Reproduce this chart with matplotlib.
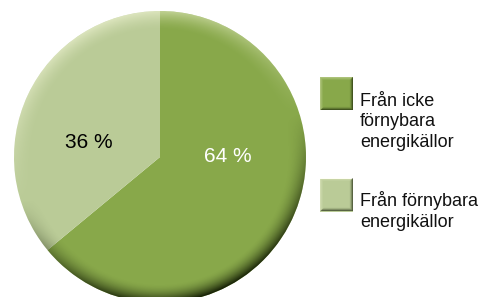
import matplotlib.pyplot as plt
import numpy as np
from matplotlib.patches import Circle, Rectangle

plt.rcParams['font.family'] = ['Liberation Sans', 'DejaVu Sans']

labels = ["Från icke\nförnybara\nenergikällor", "Från förnybara\nenergikällor"]
values = [64, 36]
colors = ["#88a84a", "#bacb97"]
pct_colors = ["white", "black"]

W, H = 485, 297
CX, CY, R = 160, 297 - 157, 146


def bevel(nx, ny, t, lx=-0.3, ly=0.95):
    """RGBA overlay for a bevelled edge, light from the upper left."""
    d = (nx * lx + ny * ly) * t
    img = np.zeros(nx.shape + (4,))
    pos = d > 0
    img[..., 0] = np.where(pos, 1.0, 0.05)
    img[..., 1] = np.where(pos, 1.0, 0.08)
    img[..., 2] = np.where(pos, 0.9, 0.0)
    img[..., 3] = np.clip(d, 0, None) * 0.5 + np.clip(-d, 0, None) ** 1.1 * 0.95
    return img


fig = plt.figure(figsize=(W / 100, H / 100), dpi=100)
ax = fig.add_axes([0, 0, 1, 1])

wedges, _ = ax.pie(values, colors=colors, startangle=90, counterclock=False,
                   center=(CX, CY), radius=R,
                   wedgeprops=dict(linewidth=0))

# shading of the rim
n = 700
xs = np.linspace(CX - R, CX + R, n)
ys = np.linspace(CY - R, CY + R, n)
X, Y = np.meshgrid(xs, ys)
dx, dy = (X - CX) / R, (Y - CY) / R
rr = np.hypot(dx, dy) + 1e-9
band = 0.13
t = np.clip((rr - (1 - band)) / band, 0, 1) ** 1.6
ov = bevel(dx / rr, dy / rr, t)
im = ax.imshow(ov, extent=(CX - R, CX + R, CY - R, CY + R), origin="lower",
               interpolation="bilinear", zorder=3)
im.set_clip_path(Circle((CX, CY), R, transform=ax.transData))

# percentage labels
pct_pos = [(228, 297 - 157), (89, 297 - 143)]
for v, (px, py), c in zip(values, pct_pos, pct_colors):
    ax.text(px, py, f"{v} %", color=c, fontsize=15, ha="center", va="center",
            zorder=4)

# legend
leg_y = [297 - 93.5, 297 - 195]
leg_text_y = [297 - 122, 297 - 211]
S = 33
for col, lab, sy, ty in zip(colors, labels, leg_y, leg_text_y):
    x0, y0 = 320, sy - S / 2
    ax.add_patch(Rectangle((x0, y0), S, S, facecolor=col, linewidth=0, zorder=3))
    m = 60
    gx, gy = np.meshgrid(np.linspace(-1, 1, m), np.linspace(-1, 1, m))
    ex = np.clip((np.abs(gx) - 0.78) / 0.22, 0, 1)
    ey = np.clip((np.abs(gy) - 0.78) / 0.22, 0, 1)
    nx = np.where(ex >= ey, np.sign(gx), 0.0)
    ny = np.where(ey > ex, np.sign(gy), 0.0)
    tt = np.maximum(ex, ey) ** 1.5
    ax.imshow(bevel(nx, ny, tt, -0.7, 0.7), extent=(x0, x0 + S, y0, y0 + S),
              origin="lower", interpolation="bilinear", zorder=4)
    ax.text(360, ty, lab, fontsize=13, ha="left", va="center",
            linespacing=1.3, color="#111111", zorder=4)

ax.set_xlim(0, W)
ax.set_ylim(0, H)
ax.set_aspect("equal")
ax.axis("off")

fig.savefig("out.png", dpi=100, facecolor="white")
